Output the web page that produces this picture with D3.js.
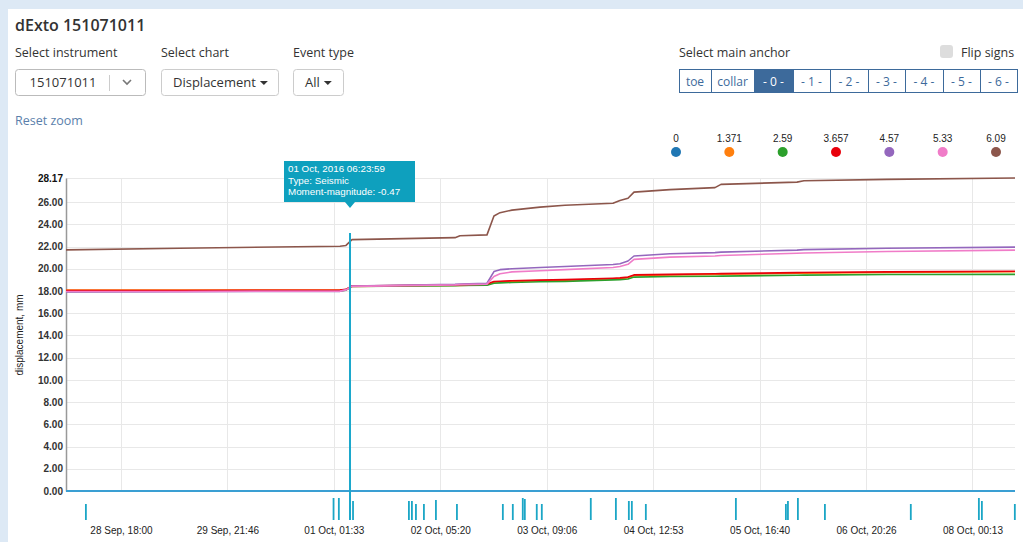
<!DOCTYPE html>
<html>
<head>
<meta charset="utf-8">
<script src="https://cdn.jsdelivr.net/npm/d3@7/dist/d3.min.js"></script>
<style>
  body { margin: 0; background: #dde9f5; overflow: hidden; }
  svg { display: block; }
</style>
</head>
<body>
<div id="chart"></div>
<script>
// ---- data ----
var seriesNames = ["0", "1.371", "2.59", "3.657", "4.57", "5.33", "6.09"];
var seriesColors = ["#1f77b4", "#ff7f0e", "#2ca02c", "#e8000b", "#9467bd", "#f07cc8", "#8c564b"];

var sampleTimes = [
  "2016-09-28 03:39", "2016-09-29 09:24", "2016-10-01 03:09", "2016-10-01 04:43",
  "2016-10-01 06:17", "2016-10-02 09:10", "2016-10-02 10:28", "2016-10-02 17:31",
  "2016-10-02 19:20", "2016-10-02 20:55", "2016-10-03 00:02", "2016-10-03 07:21",
  "2016-10-03 13:52", "2016-10-04 02:24", "2016-10-04 04:13", "2016-10-04 06:19",
  "2016-10-04 07:53", "2016-10-04 17:16", "2016-10-05 05:01", "2016-10-05 06:35",
  "2016-10-06 02:25", "2016-10-06 04:14", "2016-10-07 01:54", "2016-10-08 11:19"
];

var values0 = [0,0,0,0,0,0,0,0,0,0,0,0,0,0,0,0,0,0,0,0,0,0,0,0];
var values1371 = [18.08,18.08,18.10,18.14,18.42,18.50,18.51,18.57,18.80,18.83,18.87,18.93,18.97,19.10,19.13,19.20,19.40,19.45,19.50,19.51,19.60,19.61,19.67,19.73];
var values259 = [17.97,17.98,18.00,18.08,18.40,18.48,18.49,18.52,18.70,18.73,18.77,18.83,18.87,19.00,19.02,19.08,19.25,19.30,19.33,19.34,19.42,19.43,19.48,19.50];
var values3657 = [18.05,18.05,18.08,18.15,18.45,18.55,18.56,18.62,18.85,18.88,18.92,18.98,19.02,19.15,19.18,19.25,19.45,19.50,19.55,19.56,19.65,19.66,19.72,19.78];
var values457 = [17.92,17.93,17.97,18.10,18.45,18.60,18.62,18.70,19.75,19.92,20.00,20.12,20.20,20.38,20.45,20.70,21.15,21.35,21.45,21.50,21.68,21.72,21.85,21.95];
var values533 = [17.95,17.96,17.99,18.10,18.42,18.55,18.57,18.62,19.30,19.55,19.72,19.82,19.92,20.12,20.20,20.40,20.85,21.05,21.15,21.20,21.40,21.42,21.55,21.68];
var values609 = [21.70,21.85,22.03,22.10,22.62,22.80,22.97,23.05,24.75,25.05,25.28,25.55,25.72,25.90,26.15,26.35,26.90,27.12,27.30,27.60,27.80,27.92,28.05,28.17];
var seriesValues = [values0, values1371, values259, values3657, values457, values533, values609];

// seismic events: time + moment magnitude
var eventTimes = [
  "2016-09-28 08:52", "2016-10-01 01:30", "2016-10-01 02:53", "2016-10-01 05:46",
  "2016-10-01 06:35", "2016-10-01 21:10", "2016-10-01 21:57", "2016-10-01 23:00",
  "2016-10-02 01:05", "2016-10-02 04:13", "2016-10-02 09:42", "2016-10-02 21:41",
  "2016-10-03 00:17", "2016-10-03 02:53", "2016-10-03 03:25", "2016-10-03 06:32",
  "2016-10-03 07:51", "2016-10-03 20:38", "2016-10-04 03:11", "2016-10-04 06:34",
  "2016-10-04 07:21", "2016-10-04 11:00", "2016-10-05 10:30", "2016-10-05 23:33",
  "2016-10-06 00:05", "2016-10-06 02:41", "2016-10-06 09:44", "2016-10-07 08:09",
  "2016-10-08 01:55", "2016-10-08 02:42", "2016-10-08 11:18"
];
var eventMagnitudes = [-0.9,-0.3,-0.3,-0.47,-0.6,-0.6,-0.6,-0.9,-0.9,-0.5,-0.9,-0.9,
  -0.9,-0.3,-0.4,-0.9,-0.9,-0.3,-0.3,-0.6,-0.6,-0.9,-0.3,-0.9,-0.6,-0.3,-0.9,-0.9,
  -0.3,-0.6,-0.9];
var selectedEvent = 3;

var xTickTimes = ["2016-09-28 18:00", "2016-09-29 21:46", "2016-10-01 01:33", "2016-10-02 05:20",
  "2016-10-03 09:06", "2016-10-04 12:53", "2016-10-05 16:40", "2016-10-06 20:26", "2016-10-08 00:13"];
var yTicks = [0, 2, 4, 6, 8, 10, 12, 14, 16, 18, 20, 22, 24, 26, 28.17];

var anchorButtons = ["toe", "collar", "- 0 -", "- 1 -", "- 2 -", "- 3 -", "- 4 -", "- 5 -", "- 6 -"];
var activeAnchor = "- 0 -";

// ---- drawing ----
var parse = d3.utcParse("%Y-%m-%d %H:%M");
var W = 1023, H = 542;
var uiFont = "'Open Sans', 'Noto Sans', sans-serif";
var chartFont = "'Liberation Sans', Arial, sans-serif";

var svg = d3.select("#chart").append("svg").attr("width", W).attr("height", H);

// white panel
svg.append("rect").attr("x", 8).attr("y", 9).attr("width", W).attr("height", H).attr("fill", "#fff");

// header
svg.append("text").attr("x", 15).attr("y", 31).text("dExto 151071011")
  .attr("font-family", uiFont).attr("font-size", 16).attr("font-weight", 600).attr("fill", "#333");

var labels = [["Select instrument", 15], ["Select chart", 161], ["Event type", 293], ["Select main anchor", 679]];
svg.selectAll("text.lbl").data(labels).enter().append("text")
  .attr("class", "lbl")
  .attr("x", function (d) { return d[1]; })
  .attr("y", 57)
  .text(function (d) { return d[0]; })
  .attr("font-family", uiFont).attr("font-size", 12.5).attr("fill", "#333");

// flip signs checkbox
svg.append("rect").attr("x", 940).attr("y", 45).attr("width", 13).attr("height", 13).attr("rx", 3)
  .attr("fill", "#ddd");
svg.append("text").attr("x", 961).attr("y", 57).text("Flip signs")
  .attr("font-family", uiFont).attr("font-size", 12.5).attr("fill", "#333");

// instrument select
svg.append("rect").attr("x", 15.5).attr("y", 69.5).attr("width", 130).attr("height", 26).attr("rx", 3)
  .attr("fill", "#fff").attr("stroke", "#bbb");
svg.append("text").attr("x", 63).attr("y", 87).attr("text-anchor", "middle").text("151071011")
  .attr("font-family", uiFont).attr("font-size", 13).attr("fill", "#333");
svg.append("line").attr("x1", 109.5).attr("x2", 109.5).attr("y1", 75).attr("y2", 91).attr("stroke", "#ccc");
svg.append("path").attr("d", "M123,80 L127,84 L131,80").attr("fill", "none")
  .attr("stroke", "#777").attr("stroke-width", 1.6);

// dropdown buttons
var drops = [["Displacement", 161, 117], ["All", 293, 50]];
drops.forEach(function (d) {
  svg.append("rect").attr("x", d[1] + 0.5).attr("y", 69.5).attr("width", d[2]).attr("height", 26).attr("rx", 3)
    .attr("fill", "#fff").attr("stroke", "#ccc");
  var t = svg.append("text").attr("x", d[1] + 12).attr("y", 87).text(d[0])
    .attr("font-family", uiFont).attr("font-size", 13).attr("fill", "#333");
  var tw = t.node().getComputedTextLength();
  var cx = d[1] + 12 + tw + 8;
  svg.append("path").attr("d", "M" + (cx - 4) + ",81 L" + (cx + 4) + ",81 L" + cx + ",85 Z").attr("fill", "#333");
});

// anchor button group
var edges = [679, 711, 754, 793, 830, 868, 905, 943, 980, 1017];
var bg = svg.append("g");
bg.selectAll("rect").data(anchorButtons).enter().append("rect")
  .attr("x", function (d, i) { return edges[i] + 0.5; })
  .attr("y", 69.5)
  .attr("width", function (d, i) { return edges[i + 1] - edges[i]; })
  .attr("height", 23)
  .attr("fill", function (d) { return d === activeAnchor ? "#3d6a9b" : "#fff"; })
  .attr("stroke", "#3d6a9b").attr("stroke-width", 1);
bg.selectAll("text").data(anchorButtons).enter().append("text")
  .attr("x", function (d, i) { return (edges[i] + edges[i + 1]) / 2; })
  .attr("y", 85.5)
  .attr("text-anchor", "middle")
  .text(function (d) { return d; })
  .attr("font-family", uiFont).attr("font-size", 12)
  .attr("fill", function (d) { return d === activeAnchor ? "#fff" : "#3d6a9b"; });

svg.append("text").attr("x", 15).attr("y", 125).text("Reset zoom")
  .attr("font-family", uiFont).attr("font-size", 12.5).attr("fill", "#5b7fab");

// legend
var lx = d3.scalePoint().domain(seriesNames).range([676, 996]);
var lg = svg.append("g");
lg.selectAll("text").data(seriesNames).enter().append("text")
  .attr("x", function (d) { return lx(d); }).attr("y", 142)
  .attr("text-anchor", "middle").text(function (d) { return d; })
  .attr("font-family", chartFont).attr("font-size", 10).attr("fill", "#222");
lg.selectAll("circle").data(seriesNames).enter().append("circle")
  .attr("cx", function (d) { return lx(d); }).attr("cy", 152).attr("r", 5)
  .attr("fill", function (d, i) { return seriesColors[i]; });

// scales
var x = d3.scaleUtc()
  .domain([parse(sampleTimes[0]), parse(sampleTimes[sampleTimes.length - 1])])
  .range([66, 1015]);
var y = d3.scaleLinear().domain([0, 28.17]).range([491, 178]);

// grid
var grid = svg.append("g");
grid.selectAll("line.h").data(yTicks).enter().append("line")
  .attr("x1", 66).attr("x2", 1015)
  .attr("y1", function (d) { return Math.round(y(d)) + 0.5; })
  .attr("y2", function (d) { return Math.round(y(d)) + 0.5; })
  .attr("stroke", "#e8e8e8");
grid.selectAll("line.v").data(xTickTimes).enter().append("line")
  .attr("x1", function (d) { return Math.round(x(parse(d))) + 0.5; })
  .attr("x2", function (d) { return Math.round(x(parse(d))) + 0.5; })
  .attr("y1", 178).attr("y2", 491)
  .attr("stroke", "#e8e8e8");

// y axis
var yAxis = svg.append("g").attr("transform", "translate(66,0)")
  .call(d3.axisLeft(y).tickValues(yTicks).tickSize(0).tickPadding(3).tickFormat(d3.format(".2f")));
yAxis.select(".domain").attr("stroke", "#999").attr("stroke-width", 1.5);
yAxis.selectAll("text").attr("font-family", chartFont).attr("font-size", 10)
  .attr("font-weight", "bold").attr("fill", "#333");
yAxis.selectAll("text").filter(function (d) { return d === 28.17; }).attr("fill", "#111");

svg.append("text")
  .attr("transform", "translate(23,335) rotate(-90)")
  .attr("text-anchor", "middle").text("displacement, mm")
  .attr("font-family", chartFont).attr("font-size", 10).attr("fill", "#222");

// x axis labels
var xAxis = svg.append("g").attr("transform", "translate(0,523)")
  .call(d3.axisBottom(x).tickValues(xTickTimes.map(parse)).tickSize(0).tickPadding(4)
    .tickFormat(d3.utcFormat("%d %b, %H:%M")));
xAxis.select(".domain").remove();
xAxis.selectAll("text").attr("font-family", chartFont).attr("font-size", 10).attr("fill", "#222");

// series lines
svg.append("clipPath").attr("id", "plot").append("rect")
  .attr("x", 66).attr("y", 170).attr("width", 950).attr("height", 325);
var line = d3.line()
  .x(function (d, i) { return x(parse(sampleTimes[i])); })
  .y(function (d) { return y(d); });
svg.append("g").attr("clip-path", "url(#plot)")
  .selectAll("path").data(seriesValues).enter().append("path")
  .attr("d", line)
  .attr("fill", "none")
  .attr("stroke", function (d, i) { return i === 0 ? "#3a9fd3" : seriesColors[i]; })
  .attr("stroke-width", function (d, i) { return i === 0 ? 2 : 1.6; })
  .attr("stroke-linejoin", "round");

// events strip
var hScale = d3.scaleLinear().domain([-1, 0]).range([15, 25]);
svg.append("g").selectAll("rect").data(eventTimes).enter().append("rect")
  .attr("x", function (d) { return x(parse(d)) - 1; })
  .attr("width", 1.8)
  .attr("y", function (d, i) { return 520 - hScale(eventMagnitudes[i]); })
  .attr("height", function (d, i) { return hScale(eventMagnitudes[i]); })
  .attr("fill", "#1ba6c6");

// selected event
var sx = x(parse(eventTimes[selectedEvent]));
svg.append("line").attr("x1", sx).attr("x2", sx).attr("y1", 233).attr("y2", 520)
  .attr("stroke", "#1ca8cc").attr("stroke-width", 2);

var tip = svg.append("g").attr("transform", "translate(" + sx + ",0)");
tip.append("path")
  .attr("d", "M-66,161 H65 V202 H5 L0,208 L-5,202 H-66 Z")
  .attr("fill", "#0ea0be");
var tipLines = ["01 Oct, 2016 06:23:59", "Type: Seismic", "Moment-magnitude: " + eventMagnitudes[selectedEvent]];
tip.selectAll("text").data(tipLines).enter().append("text")
  .attr("x", -62).attr("y", function (d, i) { return 172 + i * 11.5; })
  .text(function (d) { return d; })
  .attr("font-family", chartFont).attr("font-size", 9.8).attr("fill", "#fff");
</script>
</body>
</html>
